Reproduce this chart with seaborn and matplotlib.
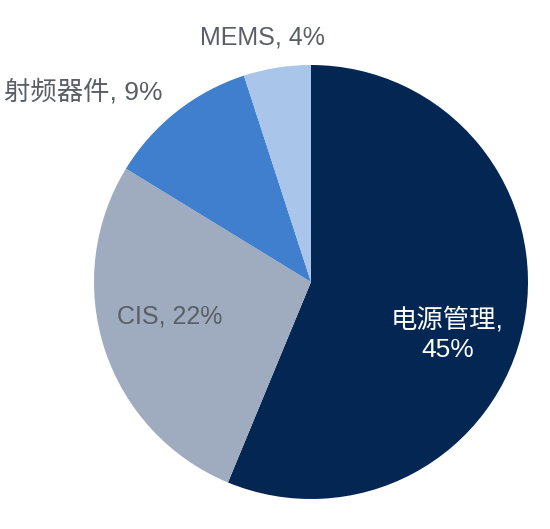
import matplotlib
matplotlib.use("Agg")
import matplotlib.pyplot as plt
import seaborn as sns

sns.set_theme(style="white")
plt.rcParams['font.family'] = ['Liberation Sans', 'Noto Sans CJK SC', 'DejaVu Sans']

categories = ["电源管理", "CIS", "射频器件", "MEMS"]
shares = [45, 22, 9, 4]
colors = ["#032752", "#9FACBF", "#3F7FCE", "#A9C5E9"]
label_texts = ["电源管理,\n45%", "CIS, 22%", "射频器件, 9%", "MEMS, 4%"]
label_colors = ["white", "#5A5F66", "#5A5F66", "#5A5F66"]
label_sizes = [19, 18, 19, 18]
label_pos = [(0.628, -0.243), (-0.649, -0.161), (-1.051, 0.876), (-0.224, 1.129)]

fig = plt.figure(figsize=(5.5, 5.29), dpi=100)
ax = fig.add_axes([0, 0, 1, 1])
ax.pie(shares, colors=colors, startangle=90, counterclock=False,
       radius=1.0, center=(0, 0), wedgeprops=dict(linewidth=0))
ax.set_aspect('auto')
ax.set_xlim(-311 / 217, (550 - 311) / 217)
ax.set_ylim(-(529 - 282) / 217, 282 / 217)
ax.axis('off')

for txt, col, fs, (x, y) in zip(label_texts, label_colors, label_sizes, label_pos):
    ax.text(x, y, txt, color=col, fontsize=fs, ha='center', va='center',
            linespacing=1.3)

fig.savefig("out.png", dpi=100, facecolor="white")
